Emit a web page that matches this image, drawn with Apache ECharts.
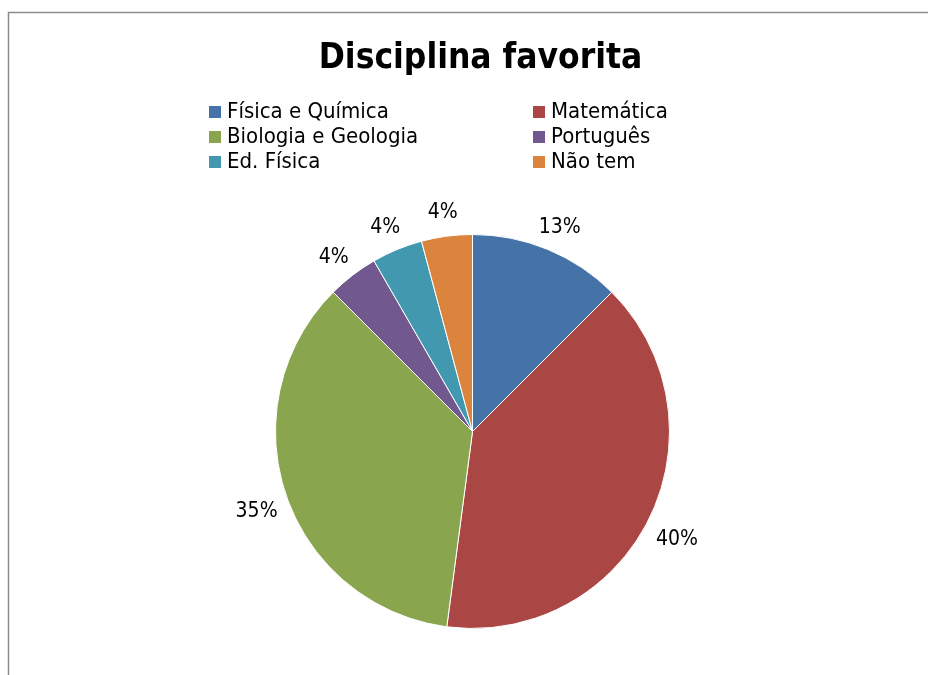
<!DOCTYPE html>
<html>
<head>
<meta charset="utf-8">
<script src="https://cdn.jsdelivr.net/npm/echarts@6/dist/echarts.min.js"></script>
<style>
html,body{margin:0;padding:0;background:#fff;}
#c{width:928px;height:675px;}
</style>
</head>
<body>
<div id="c"></div>
<script>
const categories = ['Física e Química', 'Matemática', 'Biologia e Geologia', 'Português', 'Ed. Física', 'Não tem'];
const values = [6, 19, 17, 2, 2, 2];
const colors = ['#4572A7', '#AA4643', '#89A54E', '#71588F', '#4198AF', '#DB843D'];
const legendCol1 = ['Física e Química', 'Biologia e Geologia', 'Ed. Física'];
const legendCol2 = ['Matemática', 'Português', 'Não tem'];

const FONT = "'Liberation Sans Narrow', 'Arial Narrow', 'DejaVu Sans Condensed', sans-serif";
const total = values.reduce((a, b) => a + b, 0);
const data = categories.map((n, i) => ({ name: n, value: values[i], itemStyle: { color: colors[i] } }));
const labelData = categories.map((n, i) => ({ name: n, value: values[i], itemStyle: { color: 'rgba(0,0,0,0)' } }));

const chart = echarts.init(document.getElementById('c'), null, { renderer: 'canvas' });
const legendBase = {
  orient: 'vertical', top: 99.5, padding: 0, itemWidth: 14, itemHeight: 14, itemGap: 0, icon: 'rect',
  selectedMode: false,
  textStyle: { fontFamily: FONT, fontSize: 22, color: '#000', lineHeight: 25, padding: [0, 0, 0, 0] }
};
chart.setOption({
  animation: false,
  title: {
    text: 'Disciplina favorita', left: 475.5, textAlign: 'center', top: 36,
    textStyle: { fontFamily: FONT, fontSize: 35, fontWeight: 'bold', color: '#000' }
  },
  graphic: [{
    type: 'rect', shape: { x: 8.5, y: 12.5, width: 1000, height: 1000 },
    style: { fill: 'none', stroke: '#8C8C8C', lineWidth: 1.5 }, silent: true
  }],
  legend: [
    Object.assign({ left: 207, data: legendCol1 }, legendBase),
    Object.assign({ left: 531, data: legendCol2 }, legendBase)
  ],
  series: [{
    type: 'pie', center: [472.5, 431.5], radius: 197, startAngle: 90, clockwise: true,
    data: data, label: { show: false }, labelLine: { show: false },
    itemStyle: { borderColor: '#fff', borderWidth: 1 }, silent: true
  }, {
    type: 'pie', center: [472.5, 431.5], radius: [216, 234], startAngle: 90, clockwise: true,
    data: labelData, silent: true, labelLine: { show: false },
    label: {
      show: true, position: 'inside', fontFamily: FONT, fontSize: 21, color: '#000',
      offset: [0, 7],
      formatter: p => Math.round(p.value / total * 100) + '%'
    }
  }]
});
</script>
</body>
</html>
